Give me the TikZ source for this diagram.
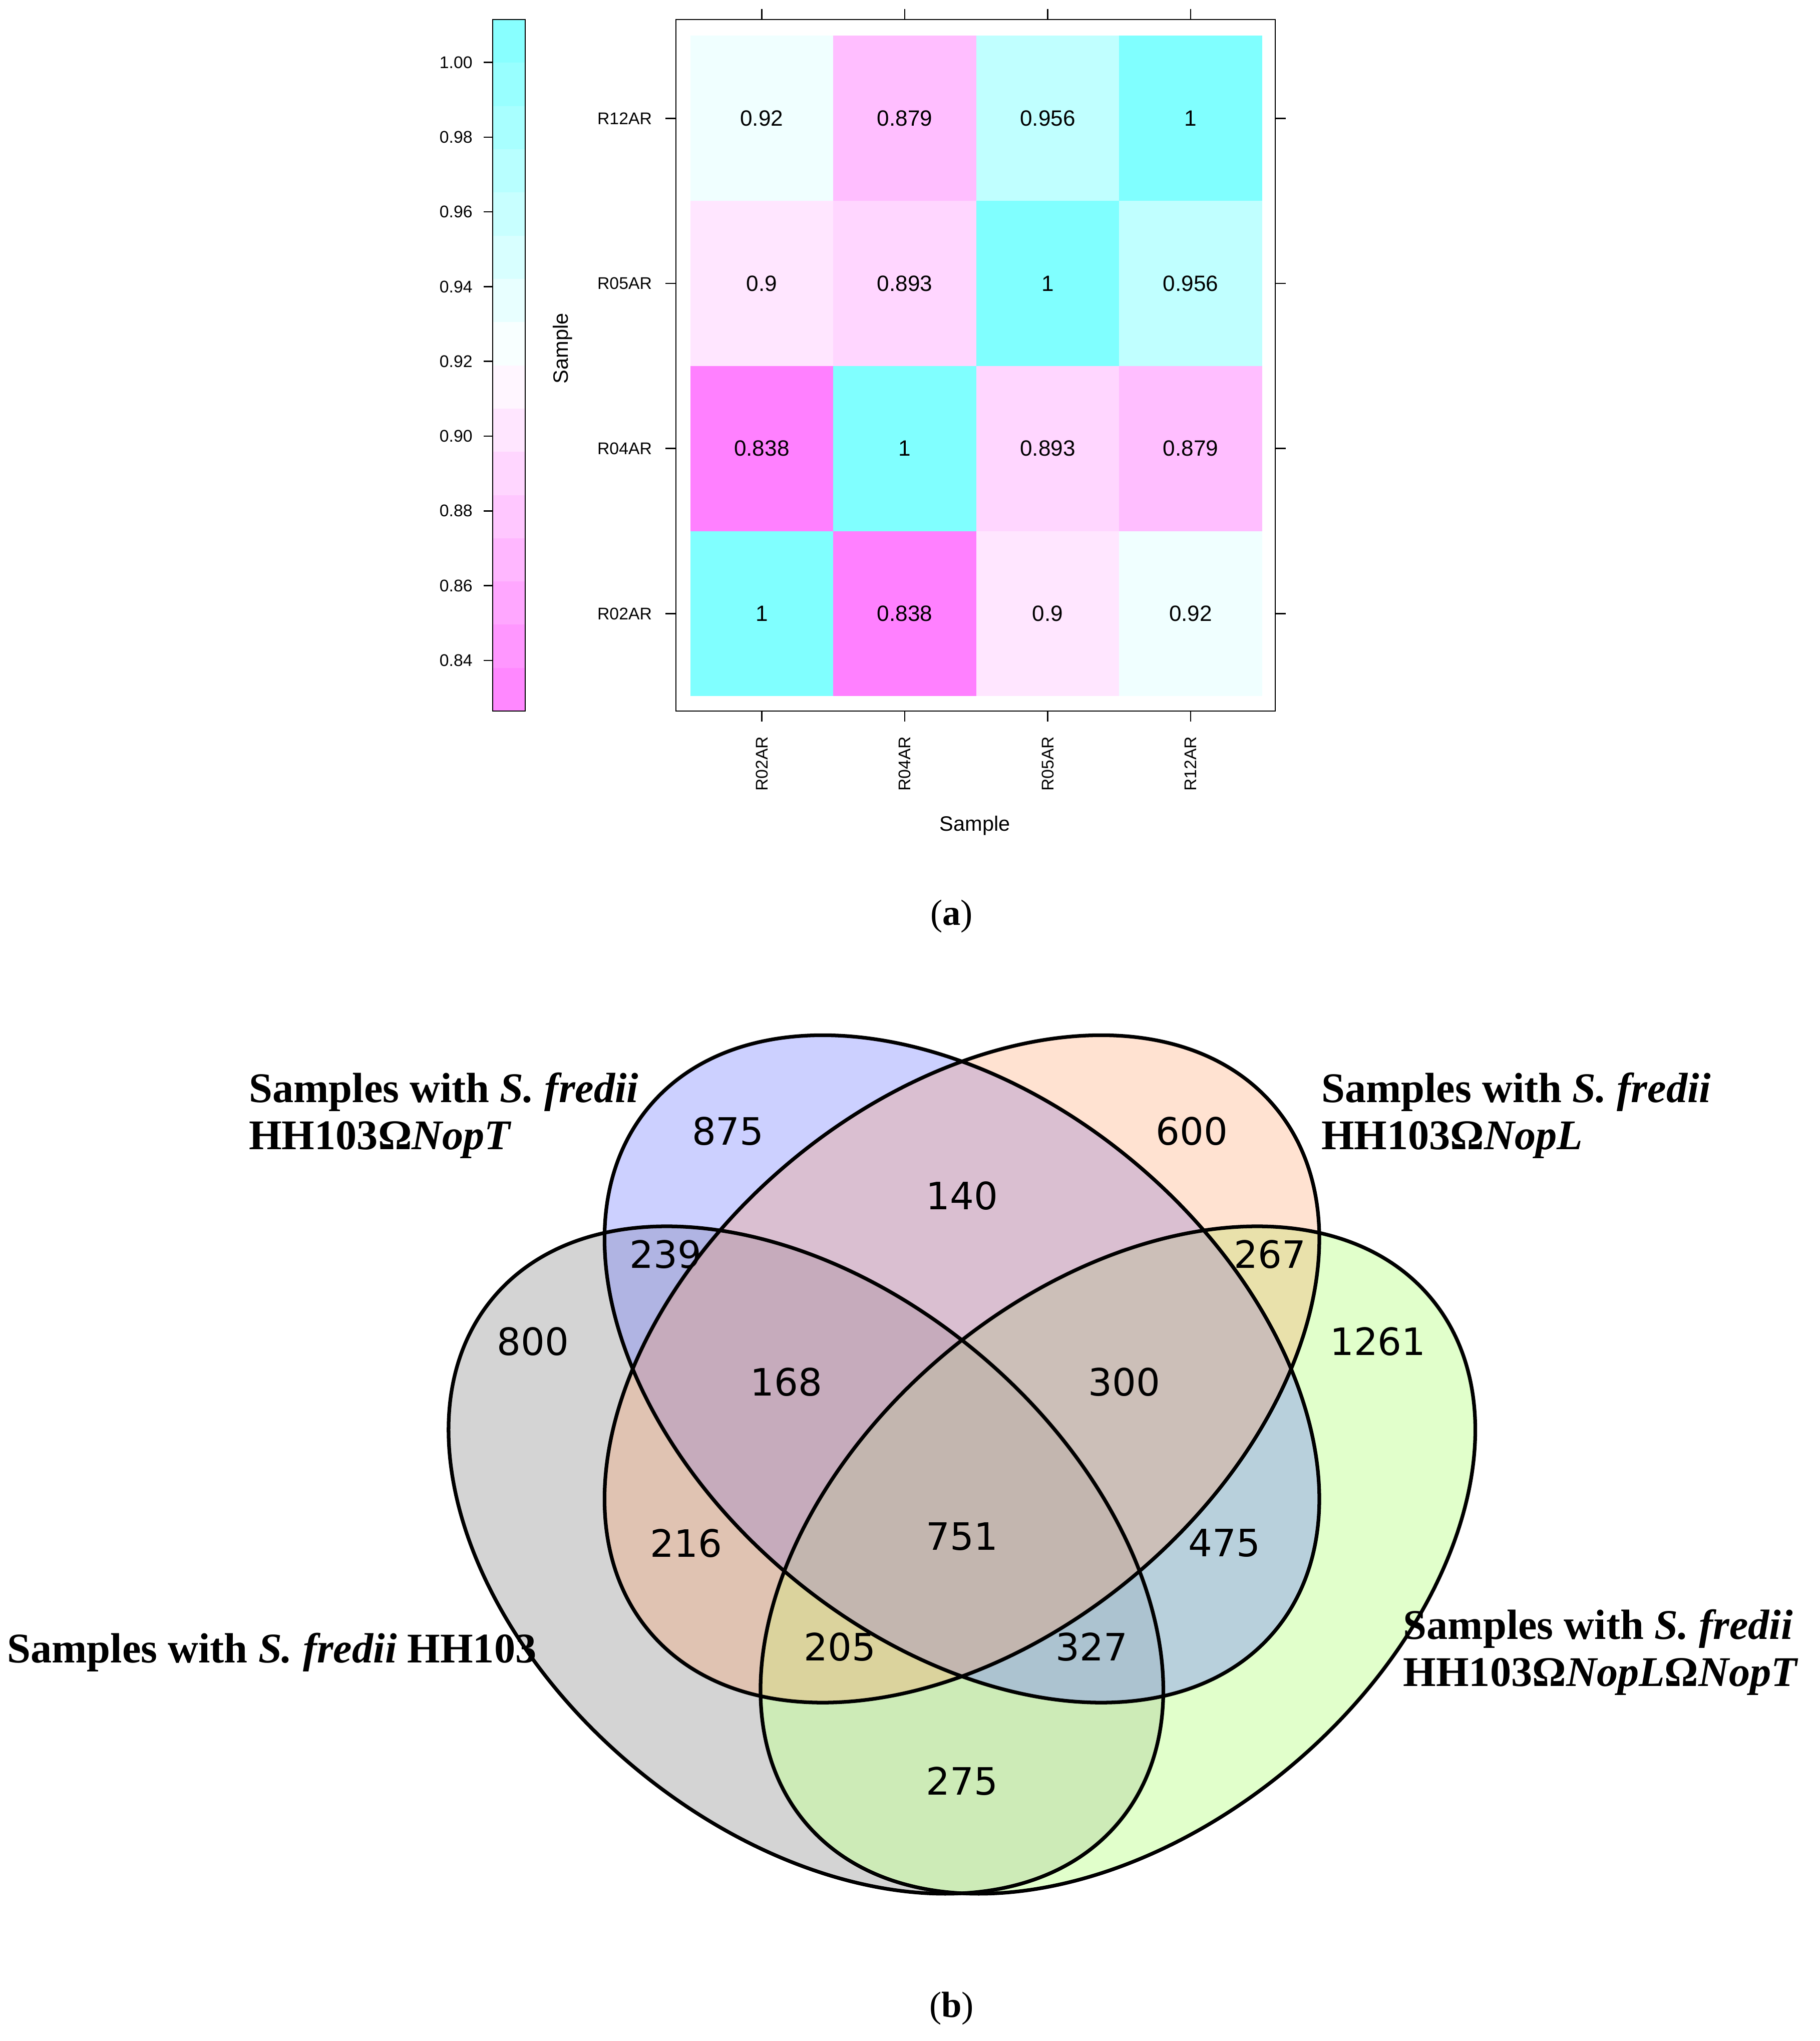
\documentclass[tikz,border=0pt]{standalone}
\usepackage{fontspec}
\setmainfont{Liberation Serif}
\setsansfont{Liberation Sans}
\newfontfamily\numf{DejaVu Sans}
\begin{document}
\begin{tikzpicture}[x=1pt,y=-1pt,
  cellv/.style={font=\sffamily\fontsize{17}{17}\selectfont},
  axl/.style={font=\sffamily\fontsize{13}{13}\selectfont},
  vn/.style={font=\numf\fontsize{29}{29}\selectfont},
  vl/.style={font=\bfseries\fontsize{32.5}{36}\selectfont,align=left,anchor=west},
  tk/.style={line width=1pt}]
\useasboundingbox (0,0) rectangle (1400,1570);
\definecolor{c100}{RGB}{128,255,255}
\definecolor{c956}{RGB}{192,255,255}
\definecolor{c92}{RGB}{240,255,255}
\definecolor{c90}{RGB}{255,230,255}
\definecolor{c893}{RGB}{255,214,255}
\definecolor{c879}{RGB}{255,190,255}
\definecolor{c838}{RGB}{255,128,255}
\definecolor{vgray}{RGB}{160,160,160}
\definecolor{vgreen}{RGB}{200,255,160}
\definecolor{vblue}{RGB}{110,120,255}
\definecolor{vorange}{RGB}{255,150,90}
% colorbar (16 discrete bands)
\foreach \i in {0,...,15}{
  \pgfmathsetmacro{\v}{0.8264+(\i+0.5)*0.01157}
  \pgfmathsetmacro{\yb}{547-\i*33.25}
  \pgfmathsetmacro{\yt}{547-(\i+1)*33.25}
  \pgfmathsetmacro{\pm}{max(0,min(100,(0.92-\v)/(0.92-0.8264)*100))}
  \pgfmathsetmacro{\pc}{max(0,min(100,(\v-0.92)/(1.0115-0.92)*100))}
  \ifdim\v pt<0.92pt
    \fill[c838!\pm!white] (379,\yb) rectangle (404,\yt);
  \else
    \fill[c100!\pc!white] (379,\yb) rectangle (404,\yt);
  \fi
}
\node[draw,line width=1pt,minimum width=25pt,minimum height=532pt,inner sep=0] (cb) at (391.5,281) {};
\foreach \v/\y in {1.00/48,0.98/105.5,0.96/163,0.94/220.5,0.92/278,0.90/335.5,0.88/393,0.86/450.5,0.84/508}{
  \draw[tk] (372,\y) -- (379,\y);
  \node[axl,anchor=east] (t\y) at (367,\y) {\v};}
% heatmap cells
\def\cell#1#2#3#4{\fill[#3] (#1-55,#2-63.5) rectangle (#1+55,#2+63.5); \node[cellv] (v#1#2) at (#1,#2) {#4};}
\cell{586}{91}{c92}{0.92}\cell{696}{91}{c879}{0.879}\cell{806}{91}{c956}{0.956}\cell{916}{91}{c100}{1}
\cell{586}{218}{c90}{0.9}\cell{696}{218}{c893}{0.893}\cell{806}{218}{c100}{1}\cell{916}{218}{c956}{0.956}
\cell{586}{345}{c838}{0.838}\cell{696}{345}{c100}{1}\cell{806}{345}{c893}{0.893}\cell{916}{345}{c879}{0.879}
\cell{586}{472}{c100}{1}\cell{696}{472}{c838}{0.838}\cell{806}{472}{c90}{0.9}\cell{916}{472}{c92}{0.92}
\node[draw,line width=1pt,minimum width=461pt,minimum height=532pt,inner sep=0] (hm) at (750.5,281) {};
\foreach \x in {586,696,806,916}{\draw[tk] (\x,7) -- (\x,15); \draw[tk] (\x,547) -- (\x,555);}
\foreach \y/\l in {91/R12AR,218/R05AR,345/R04AR,472/R02AR}{
  \draw[tk] (512,\y) -- (520,\y); \draw[tk] (981,\y) -- (989,\y);
  \node[axl,anchor=east] (y\l) at (505,\y) {\l};}
\foreach \x/\l in {586/R02AR,696/R04AR,806/R05AR,916/R12AR}{
  \node[axl,rotate=90,anchor=east] (x\l) at (\x,563) {\l};}
\node[font=\sffamily\fontsize{16}{16}\selectfont,rotate=90] (sl) at (433,268) {Sample};
\node[font=\sffamily\fontsize{16}{16}\selectfont] (sb) at (750,635) {Sample};
\node[font=\fontsize{28}{28}\selectfont] (la) at (732,705) {(\textbf{a})};
% Venn
\begin{scope}[line width=2.8pt]
\fill[vgray,opacity=0.45] (620,1200) ellipse [x radius=314,y radius=207,rotate=-40];
\fill[vgreen,opacity=0.55] (860,1200) ellipse [x radius=314,y radius=207,rotate=40];
\fill[vblue,opacity=0.35] (740,1053) ellipse [x radius=314,y radius=207,rotate=-40];
\fill[vorange,opacity=0.28] (740,1053) ellipse [x radius=314,y radius=207,rotate=40];
\draw (620,1200) ellipse [x radius=314,y radius=207,rotate=-40];
\draw (860,1200) ellipse [x radius=314,y radius=207,rotate=40];
\draw (740,1053) ellipse [x radius=314,y radius=207,rotate=-40];
\draw (740,1053) ellipse [x radius=314,y radius=207,rotate=40];
\end{scope}
\foreach \n/\x/\y in {875/560/870,140/740/920,600/917/870,239/512/965,267/977/965,800/410/1032,168/605/1063,300/865/1063,1261/1060/1032,216/528/1187,751/740/1182,475/942/1187,205/646/1267,327/840/1267,275/740/1370}{
  \node[vn] (n\n) at (\x,\y) {\n};}
\node[vl] (lt) at (188,858) {Samples with \textit{S. fredii}\\HH103Ω\textit{NopT}};
\node[vl] (lr) at (1013,858) {Samples with \textit{S. fredii}\\HH103Ω\textit{NopL}};
\node[vl] (lg) at (2,1271) {Samples with \textit{S. fredii} HH103};
\node[vl] (lgr) at (1076,1271) {Samples with \textit{S. fredii}\\HH103Ω\textit{NopL}Ω\textit{NopT}};
\node[font=\fontsize{28}{28}\selectfont] (lb) at (732,1545) {(\textbf{b})};
\end{tikzpicture}
\end{document}
